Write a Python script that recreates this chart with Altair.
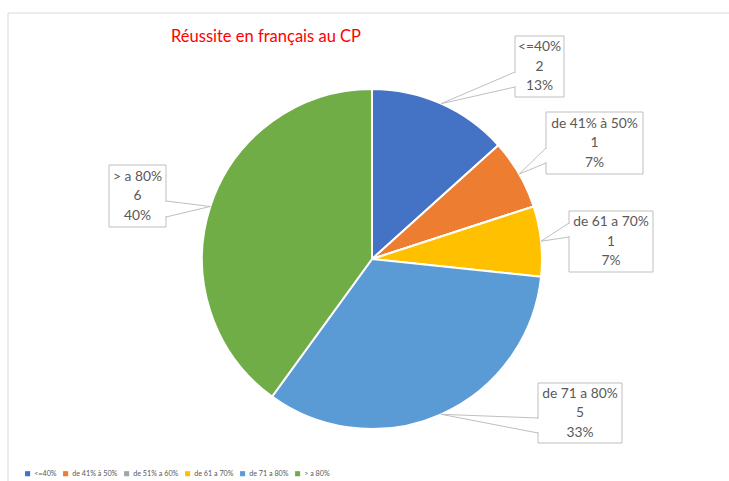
import math
import altair as alt
import pandas as pd

# ---- data ----
categories = ["<=40%", "de 41% à 50%", "de 51% a 60%", "de 61 a 70%", "de 71 a 80%", "> a 80%"]
counts = [2, 1, 0, 1, 5, 6]
colors = ["#4472C4", "#ED7D31", "#A5A5A5", "#FFC000", "#5B9BD5", "#70AD47"]
title_text = "Réussite en français au CP"

# ---- layout (pixels) ----
W, H = 729, 481
CX, CY, R = 372, 259, 170
LH = 19.5
# callout boxes: x0, y0, x1, y1, side of wedge, wedge attach y1, y2
boxes = {
    "<=40%": (515, 36, 564, 97, "left", 72, 87),
    "de 41% à 50%": (546, 112, 643, 174, "left", 148, 163),
    "de 61 a 70%": (569, 211, 653, 272, "left", 223, 237),
    "de 71 a 80%": (538, 383, 622, 443, "left", 418, 433),
    "> a 80%": (109, 165, 166, 227, "right", 201, 217),
}

total = sum(counts)
pie_df = pd.DataFrame({"cat": categories, "count": counts, "idx": list(range(len(categories)))})

# callouts derived from data
rows_box, rows_wedge, rows_cover = [], [], []
cum = 0
for cat, c in zip(categories, counts):
    start = cum
    cum += c
    if c == 0:
        continue
    mid = (start + c / 2) / total * 2 * math.pi
    tx = CX + R * math.sin(mid)
    ty = CY - R * math.cos(mid)
    x0, y0, x1, y1, side, a1, a2 = boxes[cat]
    ex = x0 if side == "left" else x1
    pct = round(c / total * 100)
    rows_box.append({"x0": x0, "y0": y0, "x1": x1, "y1": y1,
                     "cx": (x0 + x1) / 2, "ty": (y0 + y1) / 2 - LH,
                     "label": f"{cat}\n{c}\n{pct}%"})
    rows_wedge.append({"x": tx, "y": ty, "x2": ex, "y2": a1})
    rows_wedge.append({"x": tx, "y": ty, "x2": ex, "y2": a2})
    rows_cover.append({"x": ex, "y": a1 + 1, "x2": ex, "y2": a2 - 1})

box_df = pd.DataFrame(rows_box)
wedge_df = pd.DataFrame(rows_wedge)
cover_df = pd.DataFrame(rows_cover)
frame_df = pd.DataFrame([{"x": 8, "y": 13, "x2": W, "y2": 13},
                         {"x": 8, "y": 13, "x2": 8, "y2": H}])

def px(f):
    return alt.X(f + ":Q", scale=None, axis=None)

def py(f):
    return alt.Y(f + ":Q", scale=None, axis=None)

frame = alt.Chart(frame_df).mark_rule(color="#D9D9D9", strokeWidth=1).encode(
    x=px("x"), y=py("y"), x2="x2:Q", y2="y2:Q")

pie = alt.Chart(pie_df).mark_arc(radius=R, stroke="white", strokeWidth=2).encode(
    theta=alt.Theta("count:Q", stack=True),
    order=alt.Order("idx:Q"),
    color=alt.Color("cat:N",
                    scale=alt.Scale(domain=categories, range=colors),
                    sort=categories,
                    legend=alt.Legend(orient="none", legendX=24, legendY=470,
                                      direction="horizontal", title=None,
                                      symbolType="square", symbolSize=26,
                                      symbolStrokeWidth=0,
                                      labelFont="Lato", labelFontSize=7.2,
                                      labelColor="#595959", labelOffset=3,
                                      columnPadding=5)),
    x=alt.value(CX), y=alt.value(CY),
)

wedge = alt.Chart(wedge_df).mark_rule(color="#BFBFBF", strokeWidth=1).encode(
    x=px("x"), y=py("y"), x2="x2:Q", y2="y2:Q")

rects = alt.Chart(box_df).mark_rect(fill="white", stroke="#BFBFBF", strokeWidth=1).encode(
    x=px("x0"), y=py("y0"), x2="x1:Q", y2="y1:Q")

cover = alt.Chart(cover_df).mark_rule(color="white", strokeWidth=2).encode(
    x=px("x"), y=py("y"), x2="x2:Q", y2="y2:Q")

texts = alt.Chart(box_df).mark_text(font="Lato", fontSize=13.8, color="#595959",
                                    lineBreak="\n", lineHeight=LH,
                                    align="center", baseline="middle").encode(
    x=px("cx"), y=py("ty"), text="label:N")

title = alt.Chart(pd.DataFrame({"t": [title_text]})).mark_text(
    font="Lato", fontSize=16.5, color="#FF0000", align="center", baseline="alphabetic").encode(
    x=alt.value(266), y=alt.value(42), text="t:N")

chart = alt.layer(frame, pie, wedge, rects, cover, texts, title).properties(
    width=W, height=H, padding=0, autosize=alt.AutoSizeParams(type="none"),
    background="white"
).configure_view(stroke=None)

chart.save("out.html", embed_options={"renderer": "svg", "actions": False})
